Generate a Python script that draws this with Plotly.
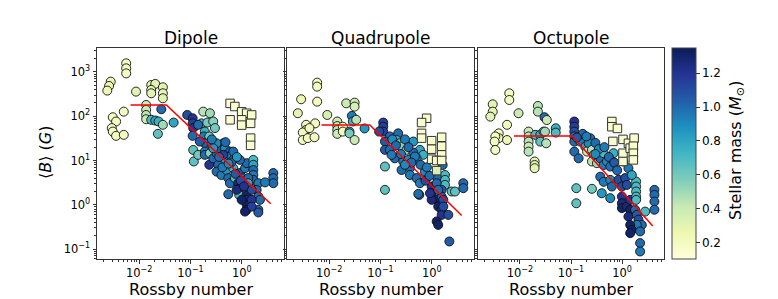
import plotly.graph_objects as go

# ---------------- data ----------------
# Dipole circles: Rossby number, <B> (G), stellar mass
dip_ro = [0.0056,0.0056,0.0056,0.0028,0.0026,0.0024,0.0087,0.0172,0.0206,0.0172,0.0172,0.029,0.029,0.029,
          0.0137,0.0137,0.0137,0.0137,0.0172,0.0206,0.0239,0.029,0.027,0.0232,0.047,
          0.00503,0.00307,0.00356,0.00294,0.00307,0.00356,0.00503,
          0.0863,0.110,0.110,0.113,0.110,0.177,0.239,0.164,0.212,0.277,0.299,0.19,0.141,0.182,0.232,0.19,0.435,
          0.113,0.116,0.141,0.19,0.19,0.239,0.232,0.277,0.322,0.374,0.468,0.586,0.569,0.68,0.435,0.347,0.322,0.40,
          0.50,0.68,0.544,0.586,0.544,0.733,0.85,0.918,0.89,0.918,1.15,1.24,1.67,1.67,1.67,1.67,1.67,2.09,1.94,
          2.09,2.25,2.09,1.24,1.24,1.24,1.24,1.55,1.55,0.99,0.79,4.09,4.09,4.09,2.82,0.152,0.257,0.322,0.277,
          0.435,0.68,0.918,1.06,1.33,1.33,1.55,0.99,1.15,2.09,
          0.36,0.42,0.62,0.75,0.55,0.95,1.1,0.26,0.48,0.8]
dip_b = [1570,1210,930,605,483,380,360,509,537,393,330,451,330,255,
         180,139,107,85.5,83,80,76,64,144,40,72,
         127,95,76,54,45,36,38,
         107,90,69,54,36,127,117,69,72,76,54,45,64,35,35,24.5,24.5,
         17.3,9.5,13.4,15.9,13.4,14.6,8.0,11.2,14.6,17.3,18.9,15.9,12.3,10.3,10.3,8.0,5.6,4.7,
         6.1,6.7,4.0,3.07,1.73,4.0,3.07,2.37,1.67,5.2,6.7,8.7,10.3,8.0,6.1,4.7,3.65,3.07,2.17,
         1.53,1.29,0.77,1.67,1.29,1.0,0.77,1.29,0.91,2.58,2.17,5.2,4.0,3.07,3.2,26.8,22.5,24.5,18.9,
         13.4,15.9,10.3,4.0,4.0,3.07,2.17,1.29,0.70,0.67,
         12,7,9,5,8.5,3.5,2.6,30,26,12]
dip_mass = [0.2,0.2,0.2,0.25,0.25,0.25,0.3,0.3,0.3,0.3,0.3,0.3,0.3,0.3,
            0.4,0.4,0.45,0.4,0.7,0.8,0.75,0.5,1.0,0.65,0.8,
            0.2,0.2,0.2,0.2,0.2,0.2,0.2,
            1.1,1.2,1.15,1.2,1.0,0.45,0.5,0.7,0.6,0.55,0.6,0.75,1.0,0.95,0.6,1.0,0.95,
            0.65,0.65,0.6,0.95,1.0,0.55,1.2,1.0,1.0,1.05,0.9,1.05,0.95,0.9,0.8,1.0,1.0,0.95,
            0.85,0.75,1.0,1.0,1.0,0.7,1.25,1.3,0.7,1.05,0.95,1.0,0.7,0.8,1.0,0.95,1.0,0.95,1.0,
            1.0,1.0,1.0,1.3,1.25,1.3,1.3,1.2,1.15,1.2,1.25,1.0,1.0,1.0,0.95,1.05,0.95,0.9,0.85,
            1.15,1.0,1.0,1.0,1.0,0.8,1.1,1.3,1.3,1.05,
            1.0,0.95,1.0,1.05,0.9,1.1,1.2,0.95,1.0,0.85]
dip_sq_ro = [0.59,0.73,0.99,1.24,1.55,0.59,0.99,0.99,1.48,1.48,1.48]
dip_sq_b = [195,166,126,117,107,83,83,63,69,32,22]
dip_fit_ro = [0.0068,0.034,3.64]
dip_fit_b = [180,180,1.05]

# Quadrupole
quad_ro = [0.00585,0.00585,0.00285,0.00246,0.00585,0.0092,0.0215,0.0313,0.0313,
           0.0144,0.0144,0.0144,0.0144,0.0185,0.0185,0.0249,0.0277,0.029,0.0249,0.0313,0.049,0.0337,
           0.00356,0.00356,0.00307,0.00307,0.00384,0.00519,0.00534,0.00414,
           0.113,0.113,0.113,0.094,0.152,0.122,0.122,0.221,0.206,0.239,0.257,0.322,
           0.435,0.586,0.68,0.505,0.122,0.122,0.257,0.374,0.374,0.505,0.586,0.733,
           0.19,0.277,0.347,0.569,0.99,0.99,1.24,1.33,1.55,1.55,2.09,1.24,1.33,0.99,0.918,
           1.8,1.8,1.8,2.43,2.82,4.09,4.09,2.19,1.55,1.55,1.24,1.24,1.33,1.67,1.67,
           0.152,0.164,0.435,0.468,0.544,1.62,
           0.17,0.2,0.3,0.35,0.25,0.4,0.3,0.6,0.8,0.75,0.9]
quad_b = [574,467,242,117,214,107,196,203,165,
          76,60,49,40,58,45,45,102,76,41,29,53,83,
          64,49,43,29,32,33.5,69,54,
          72,58,45,45,35,26.8,17.4,41,29,24.5,20.7,17.4,
          26.8,17.4,13.4,11.2,7.3,2.17,6.1,6.7,4.7,4.0,3.07,5.6,
          11.2,9.5,10.3,1.67,2.58,1.82,1.29,0.91,0.77,0.59,0.59,0.42,0.35,1.29,1.82,
          4.7,3.65,2.81,1.99,1.99,3.07,2.37,0.148,2.17,1.53,4.3,3.07,2.17,1.29,0.91,
          17.4,13.4,15.1,12.3,1.76,7.9,
          30,22,30,20,14,9,8,8,7,3.5,4.5]
quad_mass = [0.2,0.2,0.25,0.3,0.2,0.35,0.4,0.4,0.35,
             0.4,0.4,0.45,0.4,0.2,0.2,0.8,0.95,0.75,0.6,0.4,0.85,0.45,
             0.2,0.2,0.2,0.2,0.2,0.2,0.2,0.2,
             1.15,1.15,1.15,1.1,1.0,1.05,1.05,1.0,0.75,0.6,0.55,0.5,
             0.85,0.8,0.75,0.9,0.65,0.65,1.0,1.0,0.95,1.0,0.95,0.9,
             1.0,0.95,0.9,1.0,1.2,1.25,1.3,1.3,1.25,1.2,1.1,1.3,1.3,1.25,1.2,
             0.7,0.7,0.7,0.65,0.65,1.0,1.0,1.05,1.05,1.05,1.0,1.0,1.0,1.1,1.1,
             1.0,0.95,1.0,0.95,1.0,1.0,
             0.9,1.0,0.95,1.0,0.95,1.0,0.9,1.0,0.95,1.1,1.0]
quad_sq_ro = [0.79,0.63,0.63,0.63,0.99,1.55,0.99,1.55,0.99,1.55,1.24,1.55,1.24]
quad_sq_b = [90,72,41,32,28,33.5,18,21,10.7,13.4,10,10,5.9]
quad_sq_mass = [0.15,0.15,0.15,0.15,0.15,0.15,0.15,0.15,0.15,0.15,0.15,0.15,0.35]
quad_fit_ro = [0.0071,0.062,3.8]
quad_fit_b = [63.5,63.5,0.57]

# Octupole
oct_ro = [0.0062,0.0062,0.00294,0.00294,0.00264,0.0094,0.0225,0.0225,0.0303,0.0336,0.0056,
          0.00385,0.00385,0.0033,0.0032,0.0033,0.0056,
          0.0148,0.0148,0.0148,0.0148,0.0148,0.0194,0.0194,0.0194,
          0.02,0.025,0.029,0.025,0.0327,0.031,0.0503,0.0503,
          0.116,0.116,0.116,0.116,0.116,0.116,0.152,0.19,0.239,0.221,
          0.206,0.257,0.277,0.257,0.322,0.141,0.374,0.435,0.505,0.586,0.435,0.68,
          0.127,0.127,0.257,0.374,0.435,0.586,0.63,0.586,0.40,
          0.85,0.99,1.15,1.24,0.99,0.99,0.99,1.24,1.44,1.44,1.33,
          1.88,1.88,1.88,1.88,1.88,1.8,1.94,2.09,2.43,1.94,1.44,1.55,1.44,
          2.25,2.25,2.25,2.82,4.29,4.29,4.29,4.29,1.06,1.33,1.55,
          0.17,0.2,0.3,0.35,0.45,0.55,0.7,0.8,0.3,0.13]
oct_b = [330,233,186,127,98,117,171,127,95,82,64,
         41,32,35,26.7,17.3,29,
         45,35,26.7,20.6,15.9,9.5,7.9,6.7,
         38,38,45,26.7,24.5,45,53.5,42.7,
         76,58,45,35,15.9,26.7,26.7,20.6,31.8,24.5,
         15.9,17.3,13.4,9.5,8.7,11.2,11.2,7.9,9.5,7.3,14.6,14.6,
         2.37,1.08,2.29,4.3,3.3,3.65,2.58,1.41,1.82,
         3.65,2.58,4.0,2.81,1.53,1.08,0.84,0.91,1.29,0.77,0.54,
         3.34,2.58,1.99,1.53,1.29,0.77,0.59,0.46,0.35,0.35,0.35,0.27,0.228,
         0.25,0.136,0.088,0.70,2.17,1.67,1.18,0.77,9.5,6.7,4.7,
         40,35,25,18,20,12,9,6,14,33]
oct_mass = [0.2,0.2,0.3,0.3,0.3,0.4,0.45,0.45,1.0,0.4,0.2,
            0.2,0.2,0.2,0.2,0.2,0.25,
            0.4,0.45,0.45,0.4,0.45,0.3,0.3,0.3,
            0.7,0.75,0.65,0.65,0.45,0.5,0.75,0.7,
            1.2,1.15,1.1,1.0,1.0,1.0,0.95,0.8,1.0,0.9,
            0.4,0.45,0.5,0.45,0.5,1.0,1.0,0.95,0.9,1.0,0.7,0.75,
            0.65,0.65,0.6,1.0,0.95,0.9,1.0,0.9,0.85,
            1.1,1.1,1.1,1.1,1.2,1.25,1.3,1.25,1.2,1.3,1.25,
            0.7,0.7,0.7,0.7,0.7,1.0,1.05,1.1,1.0,0.95,1.3,1.3,1.3,
            1.0,1.0,0.95,0.7,1.0,1.0,1.0,1.0,1.0,0.95,0.8,
            1.0,0.95,1.0,0.9,0.95,1.0,1.05,1.0,0.9,1.05]
oct_sq_ro = [0.63,0.63,0.81,0.66,1.04,1.04,1.04,1.33,1.44,1.72,1.66,1.66,1.66]
oct_sq_b = [76,58,53,27,30,14.6,9.5,24.5,19,32,21,14.6,10.3]
oct_fit_ro = [0.00766,0.105,3.98]
oct_fit_b = [35.9,35.9,0.333]

panel_titles = ["Dipole", "Quadrupole", "Octupole"]
y_tickvals = [0.1, 1, 10, 100, 1000]
y_ticktext = ["10<sup>−1</sup>", "10<sup>0</sup>", "10<sup>1</sup>", "10<sup>2</sup>", "10<sup>3</sup>"]
x_tickvals = [0.01, 0.1, 1]
x_ticktext = ["10<sup>−2</sup>", "10<sup>−1</sup>", "10<sup>0</sup>"]
cbar_ticks = [0.2, 0.4, 0.6, 0.8, 1.0, 1.2]

# ---------------- style ----------------
FONT = "DejaVu Sans"
YLGNBU = [[0.0, "#ffffd9"], [0.125, "#edf8b1"], [0.25, "#c7e9b4"], [0.375, "#7fcdbb"],
          [0.5, "#41b6c4"], [0.625, "#1d91c0"], [0.75, "#225ea8"], [0.875, "#253494"], [1.0, "#081d58"]]
CMIN, CMAX = 0.104, 1.348
OFF = 8                       # page body margin of the browser
W, H = 778 - OFF, 299 - OFF   # figure size so the page fills the window


def PX(px):
    return (px - OFF) / W


def PY(py):
    return 1 - (py - OFF) / H


domains = [(97, 284), (287, 474), (478, 664)]
ytop, ybot = 48, 259

fig = go.Figure()

panels = [
    (dip_ro, dip_b, dip_mass, dip_sq_ro, dip_sq_b, [0.15]*len(dip_sq_ro), dip_fit_ro, dip_fit_b),
    (quad_ro, quad_b, quad_mass, quad_sq_ro, quad_sq_b, quad_sq_mass, quad_fit_ro, quad_fit_b),
    (oct_ro, oct_b, oct_mass, oct_sq_ro, oct_sq_b, [0.15]*len(oct_sq_ro), oct_fit_ro, oct_fit_b),
]

minor_vals = [k * 10 ** e for e in range(-4, 5) for k in range(2, 10)]

for i, (ro, b, m, sro, sb, sm, fro, fb) in enumerate(panels):
    xa = "x" if i == 0 else f"x{i+1}"
    ya = "y" if i == 0 else f"y{i+1}"
    fig.add_trace(go.Scatter(
        x=ro, y=b, mode="markers", xaxis=xa, yaxis=ya, showlegend=False,
        marker=dict(symbol="circle", size=9, color=m, colorscale=YLGNBU, cmin=CMIN, cmax=CMAX,
                    line=dict(color="#111", width=0.9),
                    showscale=(i == 0),
                    colorbar=dict(x=PX(672), xanchor="left", y=PY(ytop), yanchor="top",
                                  xpad=0, ypad=0,
                                  len=ybot - ytop, lenmode="pixels", thickness=24,
                                  outlinecolor="#444", outlinewidth=1,
                                  tickvals=cbar_ticks, ticktext=[f"{t:.1f}" for t in cbar_ticks],
                                  ticks="outside", ticklen=3.5, tickcolor="#333",
                                  tickfont=dict(family=FONT, size=12, color="black"))),
    ))
    fig.add_trace(go.Scatter(
        x=sro, y=sb, mode="markers", xaxis=xa, yaxis=ya, showlegend=False,
        marker=dict(symbol="square", size=8.5, color=sm, colorscale=YLGNBU, cmin=CMIN, cmax=CMAX,
                    line=dict(color="#333", width=1)),
    ))
    fig.add_trace(go.Scatter(
        x=fro, y=fb, mode="lines", xaxis=xa, yaxis=ya, showlegend=False,
        line=dict(color="red", width=1.5),
    ))

axis_common = dict(type="log", showgrid=False, zeroline=False, showline=True, mirror=True,
                   linecolor="#333", linewidth=1, ticks="outside", ticklen=3.5, tickcolor="#333",
                   tickfont=dict(family=FONT, size=11.5, color="black"))

layout = dict(width=W, height=H, margin=dict(l=0, r=0, t=0, b=0),
              paper_bgcolor="white", plot_bgcolor="white", showlegend=False)

for i, (x0, x1) in enumerate(domains):
    xk = "xaxis" if i == 0 else f"xaxis{i+1}"
    yk = "yaxis" if i == 0 else f"yaxis{i+1}"
    layout[xk] = dict(axis_common, domain=[PX(x0), PX(x1)], range=[-2.82, 0.82],
                      anchor="y" if i == 0 else f"y{i+1}",
                      tickmode="array", tickvals=x_tickvals, ticktext=x_ticktext,
                      minor=dict(tickmode="array", tickvals=minor_vals, ticks="outside",
                                 ticklen=2, tickcolor="#333", showgrid=False))
    layout[yk] = dict(axis_common, domain=[PY(ybot), PY(ytop)], range=[-1.226, 3.542],
                      anchor="x" if i == 0 else f"x{i+1}",
                      tickmode="array", tickvals=y_tickvals, ticktext=y_ticktext,
                      showticklabels=(i == 0),
                      minor=dict(tickmode="array", tickvals=minor_vals, ticks="outside",
                                 ticklen=2, tickcolor="#333", showgrid=False))

annotations = []
for i, (x0, x1) in enumerate(domains):
    annotations.append(dict(text=panel_titles[i], x=PX((x0 + x1) / 2), y=PY(38),
                            xref="paper", yref="paper", xanchor="center", yanchor="middle",
                            showarrow=False, font=dict(family=FONT, size=17, color="black")))
    annotations.append(dict(text="Rossby number", x=PX((x0 + x1) / 2), y=PY(289),
                            xref="paper", yref="paper", xanchor="center", yanchor="middle",
                            showarrow=False, font=dict(family=FONT, size=16, color="black")))
annotations.append(dict(text="⟨<i>B</i>⟩ (<i>G</i>)", x=PX(45), y=PY(153), textangle=-90,
                        xref="paper", yref="paper", xanchor="center", yanchor="middle",
                        showarrow=False, font=dict(family=FONT, size=16, color="black")))
annotations.append(dict(text="Stellar mass (<i>M</i><sub>⊙</sub>)", x=PX(736), y=PY(151), textangle=-90,
                        xref="paper", yref="paper", xanchor="center", yanchor="middle",
                        showarrow=False, font=dict(family=FONT, size=16, color="black")))
layout["annotations"] = annotations

fig.update_layout(**layout)
fig.write_html("out.html")
